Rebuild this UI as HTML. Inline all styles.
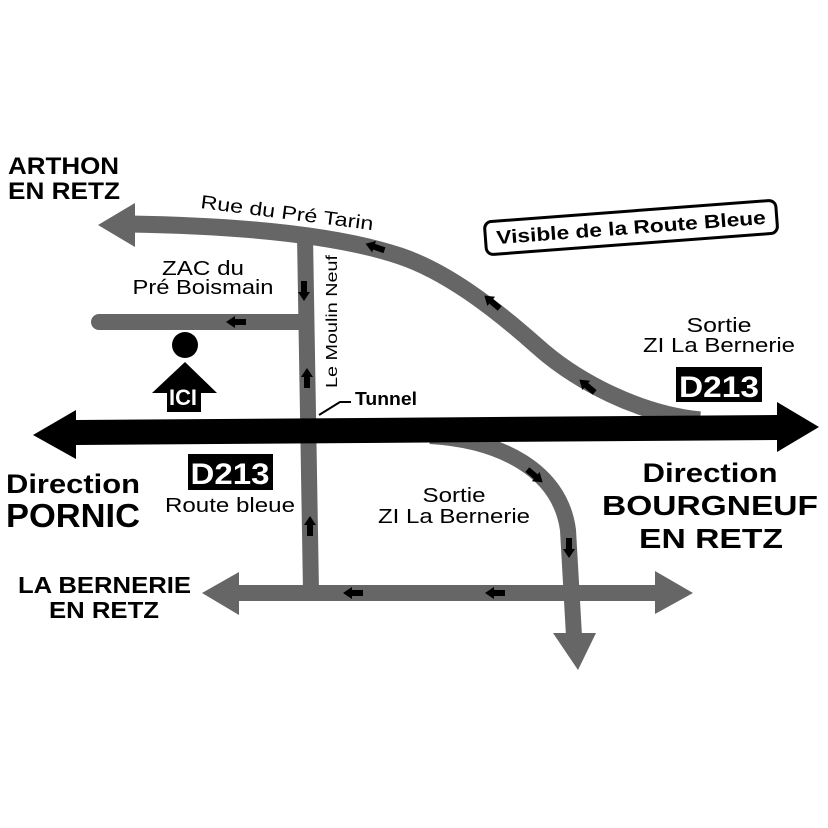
<!DOCTYPE html>
<html>
<head>
<meta charset="utf-8">
<style>
html,body{margin:0;padding:0;background:#fff;}
svg{display:block;}
text{font-family:"Liberation Sans",sans-serif;}
</style>
</head>
<body>
<svg width="828" height="828" viewBox="0 0 828 828" xmlns="http://www.w3.org/2000/svg">
<rect width="828" height="828" fill="#fff"/>

<!-- Gray roads -->
<path d="M130,224 C250,226 340,236 400,256 C445,271 492,306 537,346 C577,382 640,414 700,420" fill="none" stroke="#666" stroke-width="17"/>
<polygon points="98,225 135,203 135,247" fill="#666"/>

<g fill="none" stroke="#666" stroke-width="16">
  <line x1="305" y1="236" x2="311" y2="592"/>
  <line x1="99" y1="322" x2="305" y2="322" stroke-linecap="round"/>
  <line x1="236" y1="593" x2="658" y2="593"/>
  <path d="M430,436 C500,440 560,470 568,530 L574,636"/>
</g>
<polygon points="202,593 239,572 239,615" fill="#666"/>
<polygon points="693,593 655,571 655,614" fill="#666"/>
<polygon points="553,633 596,633 578,670" fill="#666"/>

<!-- Main black road -->
<polygon points="33,435 76,410 76,420 777,415 777,402 819,427 777,452 777,440 76,445 76,459" fill="#000"/>

<!-- Small direction arrows -->
<g fill="#000">
  <path transform="translate(375,247) rotate(199)" d="M-10,-3 H1 V-6 L10,0 L1,6 V3 H-10 Z"/>
  <path transform="translate(492,302) rotate(220)" d="M-10,-3 H1 V-6 L10,0 L1,6 V3 H-10 Z"/>
  <path transform="translate(587,386) rotate(220)" d="M-10,-3 H1 V-6 L10,0 L1,6 V3 H-10 Z"/>
  <path transform="translate(236,322) rotate(180)" d="M-10,-3 H1 V-6 L10,0 L1,6 V3 H-10 Z"/>
  <path transform="translate(304,291) rotate(90)" d="M-10,-3 H1 V-6 L10,0 L1,6 V3 H-10 Z"/>
  <path transform="translate(307,378) rotate(-90)" d="M-10,-3 H1 V-6 L10,0 L1,6 V3 H-10 Z"/>
  <path transform="translate(310,526) rotate(-90)" d="M-10,-3 H1 V-6 L10,0 L1,6 V3 H-10 Z"/>
  <path transform="translate(353,593) rotate(180)" d="M-10,-3 H1 V-6 L10,0 L1,6 V3 H-10 Z"/>
  <path transform="translate(495,593) rotate(180)" d="M-10,-3 H1 V-6 L10,0 L1,6 V3 H-10 Z"/>
  <path transform="translate(535,476) rotate(40)" d="M-10,-3 H1 V-6 L10,0 L1,6 V3 H-10 Z"/>
  <path transform="translate(569,548) rotate(90)" d="M-10,-3 H1 V-6 L10,0 L1,6 V3 H-10 Z"/>
</g>

<!-- ICI marker -->
<circle cx="185" cy="345" r="13" fill="#000"/>
<polygon points="185,362 217,393 201,393 201,412 167,412 167,393 152,393" fill="#000"/>
<text x="183" y="405" font-size="22" font-weight="bold" fill="#fff" text-anchor="middle" textLength="28" lengthAdjust="spacingAndGlyphs">ICI</text>

<!-- Tunnel leader -->
<polyline points="319,415 340,402 351,402" fill="none" stroke="#000" stroke-width="2"/>
<text x="355" y="405" font-size="18" font-weight="bold" textLength="62" lengthAdjust="spacingAndGlyphs">Tunnel</text>

<!-- Labels -->
<text x="8" y="174" font-size="24" font-weight="bold" textLength="111" lengthAdjust="spacingAndGlyphs">ARTHON</text>
<text x="8" y="199" font-size="24" font-weight="bold" textLength="112" lengthAdjust="spacingAndGlyphs">EN RETZ</text>

<text transform="translate(200,208) rotate(7.3)" x="0" y="0" font-size="19" textLength="174" lengthAdjust="spacingAndGlyphs">Rue du Pré Tarin</text>

<text x="203" y="275" font-size="20" text-anchor="middle" textLength="82" lengthAdjust="spacingAndGlyphs">ZAC du</text>
<text x="203" y="294" font-size="20" text-anchor="middle" textLength="141" lengthAdjust="spacingAndGlyphs">Pré Boismain</text>

<text transform="translate(337,388) rotate(-90)" x="0" y="0" font-size="16" textLength="133" lengthAdjust="spacingAndGlyphs">Le Moulin Neuf</text>

<!-- Visible de la Route Bleue -->
<g transform="translate(631,227) rotate(-4.3)">
  <rect x="-146" y="-16" width="292" height="33" rx="7" ry="7" fill="#fff" stroke="#000" stroke-width="3"/>
  <text x="0" y="7" font-size="19" font-weight="bold" text-anchor="middle" textLength="270" lengthAdjust="spacingAndGlyphs">Visible de la Route Bleue</text>
</g>

<text x="719" y="332" font-size="20" text-anchor="middle" textLength="65" lengthAdjust="spacingAndGlyphs">Sortie</text>
<text x="719" y="352" font-size="20" text-anchor="middle" textLength="152" lengthAdjust="spacingAndGlyphs">ZI La Bernerie</text>

<rect x="676" y="367" width="86" height="35" fill="#000"/>
<text x="719" y="397" font-size="30" font-weight="bold" fill="#fff" text-anchor="middle" textLength="80" lengthAdjust="spacingAndGlyphs">D213</text>

<rect x="188" y="454" width="85" height="36" fill="#000"/>
<text x="230" y="484" font-size="30" font-weight="bold" fill="#fff" text-anchor="middle" textLength="79" lengthAdjust="spacingAndGlyphs">D213</text>
<text x="230" y="512" font-size="20" text-anchor="middle" textLength="130" lengthAdjust="spacingAndGlyphs">Route bleue</text>

<text x="6" y="493" font-size="27" font-weight="bold" textLength="134" lengthAdjust="spacingAndGlyphs">Direction</text>
<text x="6" y="527" font-size="33" font-weight="bold" textLength="134" lengthAdjust="spacingAndGlyphs">PORNIC</text>

<text x="454" y="502" font-size="20" text-anchor="middle" textLength="63" lengthAdjust="spacingAndGlyphs">Sortie</text>
<text x="454" y="523" font-size="20" text-anchor="middle" textLength="152" lengthAdjust="spacingAndGlyphs">ZI La Bernerie</text>

<text x="710" y="482" font-size="27" font-weight="bold" text-anchor="middle" textLength="135" lengthAdjust="spacingAndGlyphs">Direction</text>
<text x="710" y="515" font-size="28" font-weight="bold" text-anchor="middle" textLength="216" lengthAdjust="spacingAndGlyphs">BOURGNEUF</text>
<text x="711" y="548" font-size="28" font-weight="bold" text-anchor="middle" textLength="144" lengthAdjust="spacingAndGlyphs">EN RETZ</text>

<text x="18" y="593" font-size="23" font-weight="bold" textLength="173" lengthAdjust="spacingAndGlyphs">LA BERNERIE</text>
<text x="49" y="618" font-size="23" font-weight="bold" textLength="110" lengthAdjust="spacingAndGlyphs">EN RETZ</text>
</svg>
</body>
</html>
